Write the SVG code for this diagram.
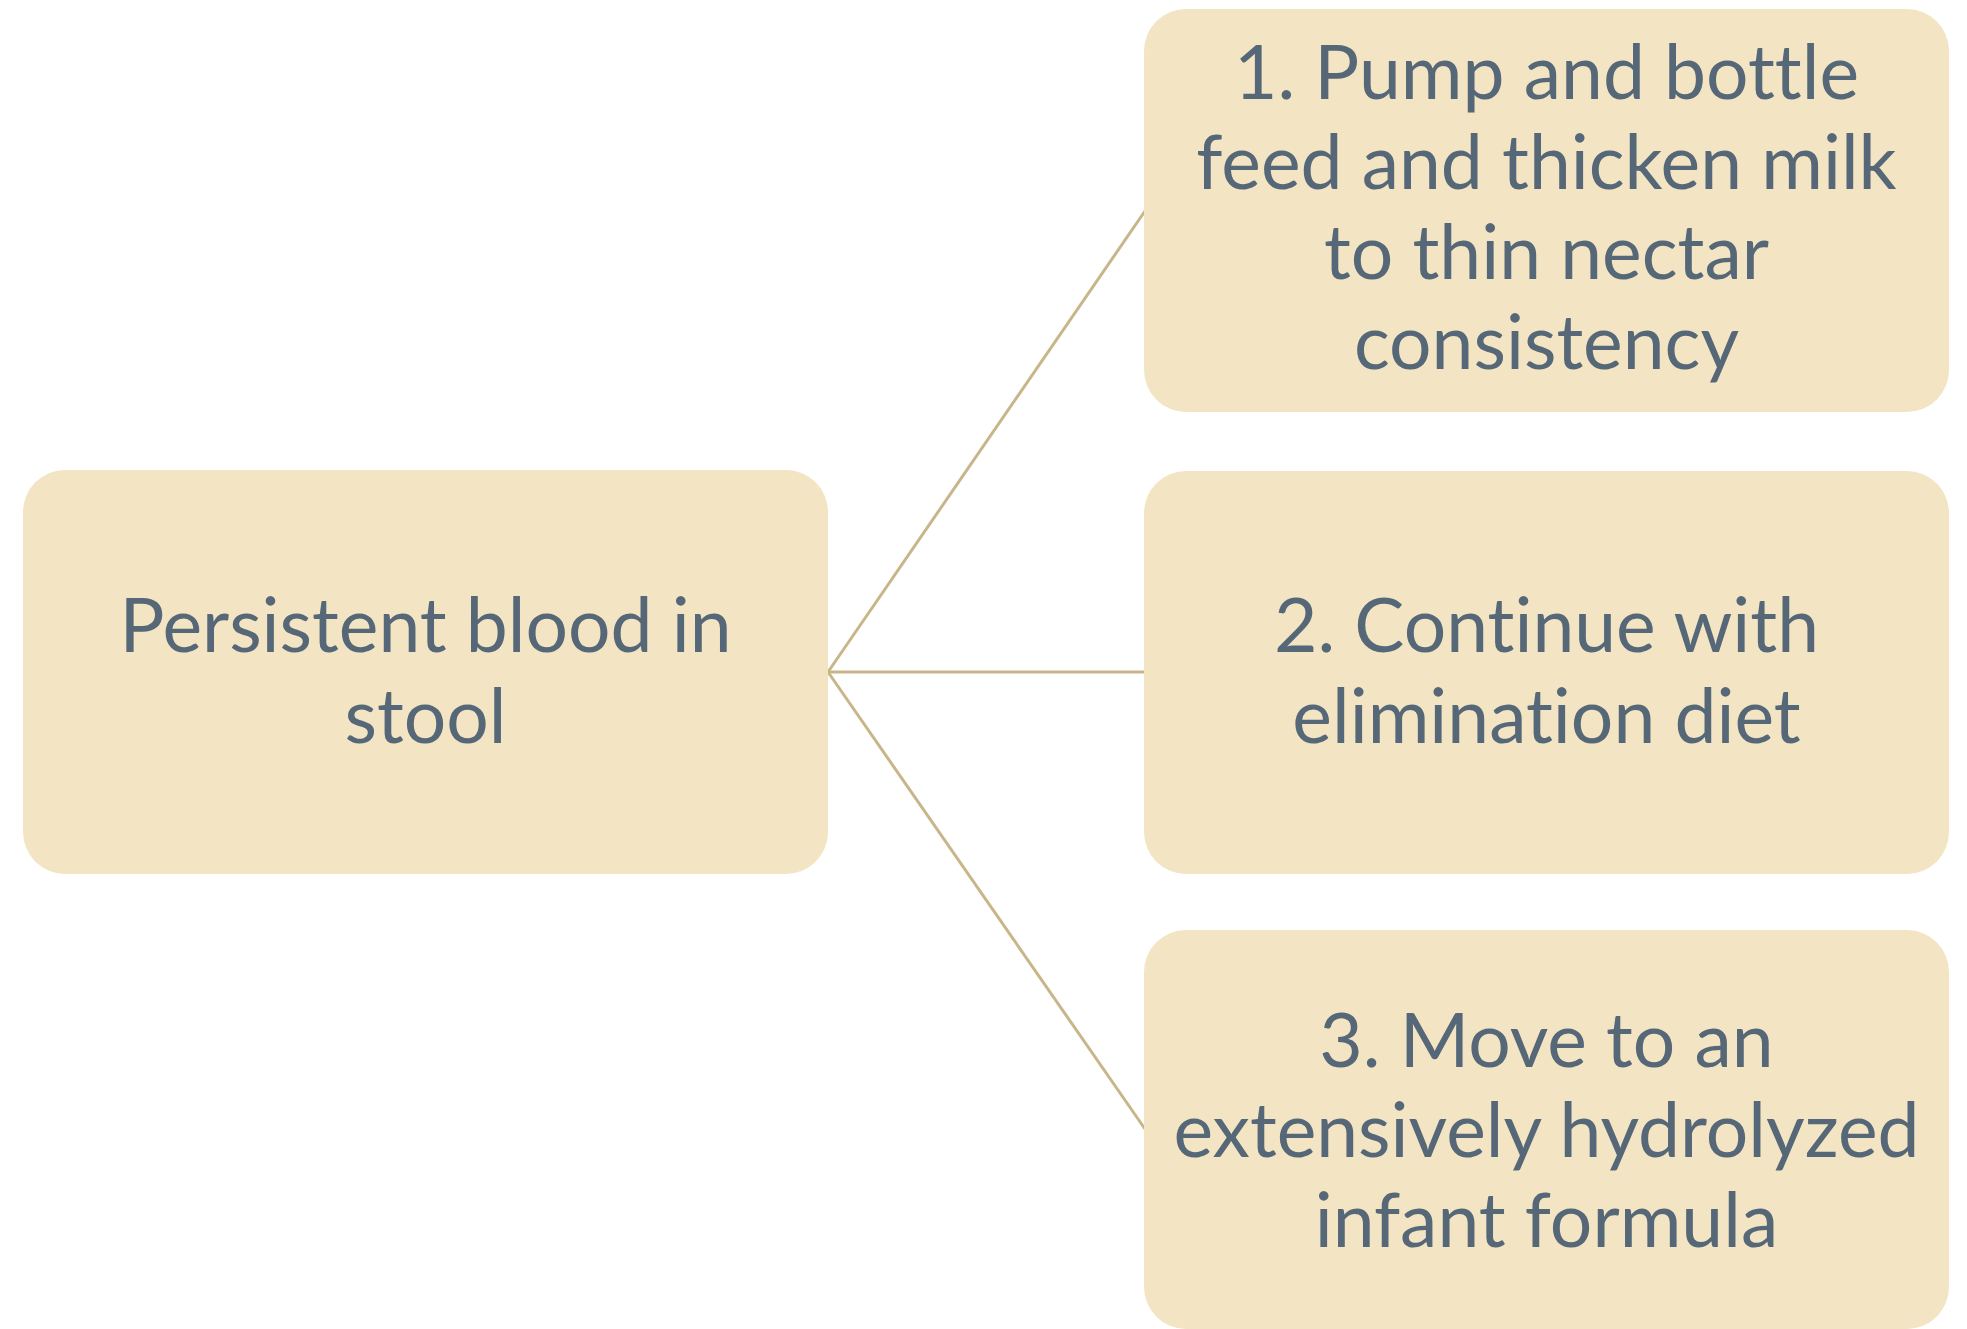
<svg xmlns="http://www.w3.org/2000/svg" width="1967" height="1329" viewBox="0 0 1967 1329">
<style>
.box{fill:#F3E5C3;}
.lbl{font-family:Lato,"Open Sans","Noto Sans",sans-serif;font-size:75px;fill:#566877;text-anchor:middle;font-variant-ligatures:none;}
.conn{stroke:#C8B68A;stroke-width:3;fill:none;}
</style>
<rect width="1967" height="1329" fill="#FFFFFF"/>
<g id="connectors">
<line class="conn" x1="828" y1="672" x2="1145" y2="211"/>
<line class="conn" x1="828" y1="672" x2="1145" y2="672"/>
<line class="conn" x1="828" y1="672" x2="1145" y2="1129"/>
</g>
<g id="node-root">
<rect class="box" x="23" y="470" width="805" height="404" rx="42"/>
<text class="lbl"><tspan x="425.5" y="652">Persistent blood in</tspan><tspan x="425.5" y="743">stool</tspan></text>
</g>
<g id="node-1">
<rect class="box" x="1144" y="9" width="805" height="403" rx="42"/>
<text class="lbl"><tspan x="1546.5" y="99">1. Pump and bottle</tspan><tspan x="1546.5" y="189">feed and thicken milk</tspan><tspan x="1546.5" y="279">to thin nectar</tspan><tspan x="1546.5" y="369">consistency</tspan></text>
</g>
<g id="node-2">
<rect class="box" x="1144" y="471" width="805" height="403" rx="42"/>
<text class="lbl"><tspan x="1546.5" y="652">2. Continue with</tspan><tspan x="1546.5" y="743">elimination diet</tspan></text>
</g>
<g id="node-3">
<rect class="box" x="1144" y="930" width="805" height="399" rx="42"/>
<text class="lbl"><tspan x="1546.5" y="1067">3. Move to an</tspan><tspan x="1546.5" y="1157">extensively hydrolyzed</tspan><tspan x="1546.5" y="1247">infant formula</tspan></text>
</g>
</svg>
